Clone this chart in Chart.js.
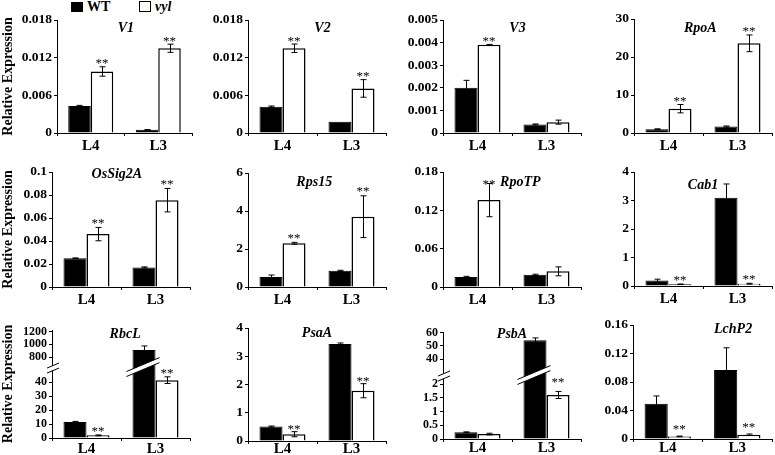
<!DOCTYPE html>
<html><head><meta charset="utf-8">
<script src="https://cdn.jsdelivr.net/npm/chart.js@4.4.1/dist/chart.umd.min.js"></script>
<style>
body{margin:0;background:#fff;width:775px;height:455px;overflow:hidden;position:relative;font-family:"Liberation Serif","Times New Roman",serif;}
canvas{position:absolute;}
.lg{position:absolute;font-weight:bold;font-size:14px;line-height:14px;color:#000;}
.box{position:absolute;border:1px solid #000;box-sizing:border-box;}
.pre{position:absolute;left:-500px;top:-100px;font-size:14px;}
</style></head><body>
<span class="pre">Aa1</span><span class="pre" style="font-weight:bold">Aa1</span><span class="pre" style="font-weight:bold;font-style:italic">Aa1</span>
<div class="box" style="left:71px;top:2px;width:12px;height:10px;background:#000"></div>
<div class="lg" style="left:87px;top:0px">WT</div>
<div class="box" style="left:139px;top:1px;width:12px;height:11px;background:#fff"></div>
<div class="lg" style="left:155px;top:0px;font-style:italic">vyl</div>
<script>
// ---------- data ----------
const categories = ['L4', 'L3'];
const seriesNames = ['WT', 'vyl'];

const V1_wt = [0.0043, 0.0005];   const V1_wtErr = [0.0001, 0.00005];
const V1_vyl = [0.0098, 0.0135];  const V1_vylErr = [0.00075, 0.00065];
const V1_sig = [1, 1];            const V1_ticks = [0, 0.006, 0.012, 0.018];

const V2_wt = [0.0042, 0.0018];   const V2_wtErr = [0.0001, 0];
const V2_vyl = [0.0135, 0.0071];  const V2_vylErr = [0.00067, 0.0014];
const V2_sig = [1, 1];            const V2_ticks = [0, 0.006, 0.012, 0.018];

const V3_wt = [0.0020, 0.00038];  const V3_wtErr = [0.00033, 0.00002];
const V3_vyl = [0.0039, 0.00048]; const V3_vylErr = [0.00002, 0.00009];
const V3_sig = [1, 0];            const V3_ticks = [0, 0.001, 0.002, 0.003, 0.004, 0.005];

const RpoA_wt = [1.0, 1.7];       const RpoA_wtErr = [0.1, 0.15];
const RpoA_vyl = [6.4, 23.6];     const RpoA_vylErr = [1.1, 2.2];
const RpoA_sig = [1, 1];          const RpoA_ticks = [0, 10, 20, 30];

const OsSig2A_wt = [0.025, 0.017];    const OsSig2A_wtErr = [0.0003, 0.0005];
const OsSig2A_vyl = [0.046, 0.0755];  const OsSig2A_vylErr = [0.0058, 0.0102];
const OsSig2A_sig = [1, 1];           const OsSig2A_ticks = [0, 0.02, 0.04, 0.06, 0.08, 0.1];

const Rps15_wt = [0.53, 0.85];    const Rps15_wtErr = [0.1, 0.03];
const Rps15_vyl = [2.3, 3.7];     const Rps15_vylErr = [0.05, 1.1];
const Rps15_sig = [1, 1];         const Rps15_ticks = [0, 2, 4, 6];

const RpoTP_wt = [0.0157, 0.019]; const RpoTP_wtErr = [0.001, 0.001];
const RpoTP_vyl = [0.136, 0.0245];const RpoTP_vylErr = [0.026, 0.007];
const RpoTP_sig = [1, 0];         const RpoTP_ticks = [0, 0.06, 0.12, 0.18];

const Cab1_wt = [0.19, 3.1];      const Cab1_wtErr = [0.05, 0.48];
const Cab1_vyl = [0.06, 0.08];    const Cab1_vylErr = [0.01, 0.015];
const Cab1_sig = [1, 1];          const Cab1_ticks = [0, 1, 2, 3, 4];

const RbcL_wt = [11.5, 910];      const RbcL_wtErr = [0.4, 65];
const RbcL_vyl = [1.9, 41.5];     const RbcL_vylErr = [0.3, 2.4];
const RbcL_sig = [1, 1];          const RbcL_ticks = [0, 10, 20, 30, 40, 800, 1000, 1200];

const PsaA_wt = [0.51, 3.43];     const PsaA_wtErr = [0.02, 0.04];
const PsaA_vyl = [0.24, 1.78];    const PsaA_vylErr = [0.09, 0.25];
const PsaA_sig = [1, 1];          const PsaA_ticks = [0, 1, 2, 3, 4];

const PsbA_wt = [0.25, 54.3];     const PsbA_wtErr = [0.01, 1.7];
const PsbA_vyl = [0.18, 1.61];    const PsbA_vylErr = [0.03, 0.13];
const PsbA_sig = [0, 1];          const PsbA_ticks = [0, 0.5, 1, 1.5, 2, 40, 50, 60];

const LchP2_wt = [0.0494, 0.097]; const LchP2_wtErr = [0.011, 0.031];
const LchP2_vyl = [0.0036, 0.006];const LchP2_vylErr = [0.0005, 0.001];
const LchP2_sig = [1, 1];         const LchP2_ticks = [0, 0.04, 0.08, 0.12, 0.16];

// broken-axis transforms (lower segment linear, upper segment compressed)
const rbclTf = v => v <= 100 ? v : 58.1 + (v - 800) * 0.0455;
const psbaTf = v => v <= 10 ? v : 2.917 + (v - 40) * 0.0487;

// ---------- layout ----------
const FONT = "'Liberation Serif', 'Times New Roman', serif";
const AXW = 55, XAH = 22, PADT = 12, PADR = 3;

const panels = [
  {name:'V1', wt:V1_wt, wtErr:V1_wtErr, vyl:V1_vyl, vylErr:V1_vylErr, sig:V1_sig, ticks:V1_ticks, rect:[57,20,192,133], tx:0.51, ty:7, gap:6, first:true, xpad:1},
  {name:'V2', wt:V2_wt, wtErr:V2_wtErr, vyl:V2_vyl, vylErr:V2_vylErr, sig:V2_sig, ticks:V2_ticks, rect:[248,20,386,133], tx:0.54, ty:7, gap:6, xpad:1},
  {name:'V3', wt:V3_wt, wtErr:V3_wtErr, vyl:V3_vyl, vylErr:V3_vylErr, sig:V3_sig, ticks:V3_ticks, rect:[443,20,581,133], tx:0.54, ty:7, gap:6, xpad:1},
  {name:'RpoA', wt:RpoA_wt, wtErr:RpoA_wtErr, vyl:RpoA_vyl, vylErr:RpoA_vylErr, sig:RpoA_sig, ticks:RpoA_ticks, rect:[634,19,772,133], tx:0.48, ty:8.5, gap:6, xpad:1},

  {name:'OsSig2A', wt:OsSig2A_wt, wtErr:OsSig2A_wtErr, vyl:OsSig2A_vyl, vylErr:OsSig2A_vylErr, sig:OsSig2A_sig, ticks:OsSig2A_ticks, rect:[52,172,190,287], tx:0.47, ty:1.5, gap:7, first:true, xpad:1},
  {name:'Rps15', wt:Rps15_wt, wtErr:Rps15_wtErr, vyl:Rps15_vyl, vylErr:Rps15_vylErr, sig:Rps15_sig, ticks:Rps15_ticks, rect:[248,173,386,287], tx:0.48, ty:8.5, gap:7, xpad:1},
  {name:'RpoTP', wt:RpoTP_wt, wtErr:RpoTP_wtErr, vyl:RpoTP_vyl, vylErr:RpoTP_vylErr, sig:RpoTP_sig, ticks:RpoTP_ticks, rect:[443,172,581,287], tx:0.56, ty:9.5, gap:2, xpad:1},
  {name:'Cab1', wt:Cab1_wt, wtErr:Cab1_wtErr, vyl:Cab1_vyl, vylErr:Cab1_vylErr, sig:Cab1_sig, ticks:Cab1_ticks, rect:[634,172,772,286], tx:0.5, ty:12.7, gap:7, xpad:1},

  {name:'RbcL', wt:RbcL_wt, wtErr:RbcL_wtErr, vyl:RbcL_vyl, vylErr:RbcL_vylErr, sig:RbcL_sig, ticks:RbcL_ticks, rect:[52,330,190,438], tx:0.53, ty:3.5, gap:6, first:true, tf:rbclTf, ymax:77.5, brk:50.9, fs:12, xpad:-1},
  {name:'PsaA', wt:PsaA_wt, wtErr:PsaA_wtErr, vyl:PsaA_vyl, vylErr:PsaA_vylErr, sig:PsaA_sig, ticks:PsaA_ticks, rect:[248,328,386,441], tx:0.5, ty:4.7, gap:5, xpad:-4},
  {name:'PsbA', wt:PsbA_wt, wtErr:PsbA_wtErr, vyl:PsbA_vyl, vylErr:PsbA_vylErr, sig:PsbA_sig, ticks:PsbA_ticks, rect:[443,332,581,439], tx:0.5, ty:1, gap:12, tf:psbaTf, ymax:3.913, brk:2.34, fs:12, xpad:-3},
  {name:'LchP2', wt:LchP2_wt, wtErr:LchP2_wtErr, vyl:LchP2_vyl, vylErr:LchP2_vylErr, sig:LchP2_sig, ticks:LchP2_ticks, rect:[633,325,772,439], tx:0.72, ty:3.7, gap:9.5, xpad:-3}
];

function drawBand(ctx, x0, x1, yc, slope, thick) {
  const h = slope * (x1 - x0) / 2;
  const a = [x0, yc + h - thick / 2], b = [x1, yc - h - thick / 2];
  const c = [x1, yc - h + thick / 2], d = [x0, yc + h + thick / 2];
  ctx.save();
  ctx.fillStyle = '#fff';
  ctx.beginPath(); ctx.moveTo(a[0], a[1]); ctx.lineTo(b[0], b[1]); ctx.lineTo(c[0], c[1]); ctx.lineTo(d[0], d[1]); ctx.closePath(); ctx.fill();
  ctx.strokeStyle = '#000'; ctx.lineWidth = 1;
  ctx.beginPath(); ctx.moveTo(a[0], a[1]); ctx.lineTo(b[0], b[1]); ctx.moveTo(d[0], d[1]); ctx.lineTo(c[0], c[1]); ctx.stroke();
  ctx.restore();
}

function makePlugin(p, tf) {
  return {
    id: 'marks_' + p.name,
    afterDatasetsDraw(chart) {
      const ctx = chart.ctx, y = chart.scales.y, area = chart.chartArea;
      ctx.save();
      ctx.strokeStyle = '#000'; ctx.lineWidth = 1;
      chart.data.datasets.forEach((ds, i) => {
        const meta = chart.getDatasetMeta(i);
        meta.data.forEach((bar, j) => {
          const v = ds.raw[j], e = ds.err[j];
          const x = Math.round(bar.x) + 0.5;
          const yt = y.getPixelForValue(tf(v + e));
          if (e > 0) {
            const yb = y.getPixelForValue(tf(Math.max(v - e, 0)));
            ctx.beginPath();
            ctx.moveTo(x, yt); ctx.lineTo(x, yb);
            ctx.moveTo(x - 3, yt); ctx.lineTo(x + 3, yt);
            ctx.moveTo(x - 3, yb); ctx.lineTo(x + 3, yb);
            ctx.stroke();
          }
          if (ds.sig && ds.sig[j]) {
            ctx.fillStyle = '#000';
            ctx.font = '13px ' + FONT;
            ctx.textAlign = 'center'; ctx.textBaseline = 'alphabetic';
            ctx.fillText('**', bar.x, yt - p.gap + 6.5);
          }
        });
      });
      ctx.fillStyle = '#000';
      ctx.font = 'italic bold 14px ' + FONT;
      ctx.textAlign = 'center'; ctx.textBaseline = 'alphabetic';
      ctx.fillText(p.name, area.left + p.tx * (area.right - area.left), area.top + p.ty + 4.5);
      ctx.restore();
    },
    afterDraw(chart) {
      if (p.brk === undefined) return;
      const ctx = chart.ctx, y = chart.scales.y, area = chart.chartArea;
      const yc = y.getPixelForValue(p.brk);
      drawBand(ctx, area.left - 5, area.left + 7, yc + 1, 0.42, 5);
      const bar = chart.getDatasetMeta(0).data[1];
      drawBand(ctx, bar.x - bar.width / 2 - 6, bar.x + bar.width / 2 + 4, yc, 0.42, 5);
    }
  };
}

function build() {
  panels.forEach(p => {
    const [l, t, r, b] = p.rect;
    const tf = p.tf || (v => v);
    const cv = document.createElement('canvas');
    cv.width = r - l + AXW + PADR;
    cv.height = b - t + PADT + XAH;
    cv.style.left = (l - AXW) + 'px';
    cv.style.top = (t - PADT) + 'px';
    document.body.appendChild(cv);
    const ymax = p.ymax !== undefined ? p.ymax : p.ticks[p.ticks.length - 1];
    const titlePad = 8.5 - (l - AXW) - 8.4;
    new Chart(cv, {
      type: 'bar',
      data: {
        labels: categories,
        datasets: [
          {label: seriesNames[0], data: p.wt.map(tf), raw: p.wt, err: p.wtErr,
           backgroundColor: '#000', borderColor: '#000', borderWidth: 1},
          {label: seriesNames[1], data: p.vyl.map(tf), raw: p.vyl, err: p.vylErr, sig: p.sig,
           backgroundColor: '#fff', borderColor: '#000', borderWidth: 1.5}
        ]
      },
      options: {
        responsive: false, animation: false, devicePixelRatio: 1,
        font: {family: FONT},
        layout: {padding: {top: PADT, right: PADR, bottom: 0, left: 0}},
        datasets: {bar: {categoryPercentage: 0.667, barPercentage: 1}},
        plugins: {legend: {display: false}, tooltip: {enabled: false}},
        scales: {
          x: {
            grid: {display: true, drawOnChartArea: false, drawTicks: true, tickLength: 3, color: '#000', offset: true},
            border: {display: true, color: '#000', width: 1},
            ticks: {color: '#000', font: {family: FONT, size: 15, weight: 'bold'}, padding: p.xpad, maxRotation: 0},
            afterFit: s => { s.height = XAH; }
          },
          y: {
            min: 0, max: ymax,
            afterBuildTicks: s => { s.ticks = p.ticks.map(v => ({value: tf(v)})); },
            ticks: {autoSkip: false, color: '#000', font: {family: FONT, size: p.fs || 13.5, weight: 'bold'}, padding: 2,
                    callback: (v, i) => String(p.ticks[i])},
            grid: {display: true, drawOnChartArea: false, drawTicks: true, tickLength: 3, color: '#000'},
            border: {display: true, color: '#000', width: 1},
            title: p.first ? {display: true, text: 'Relative Expression', color: '#000',
                              font: {family: FONT, size: 14, weight: 'bold'}, padding: {top: titlePad, bottom: 0}} : {display: false},
            afterFit: s => { s.width = AXW; }
          }
        }
      },
      plugins: [makePlugin(p, tf)]
    });
  });
}
Chart.defaults.font.family = FONT;
build();
</script>
</body></html>
